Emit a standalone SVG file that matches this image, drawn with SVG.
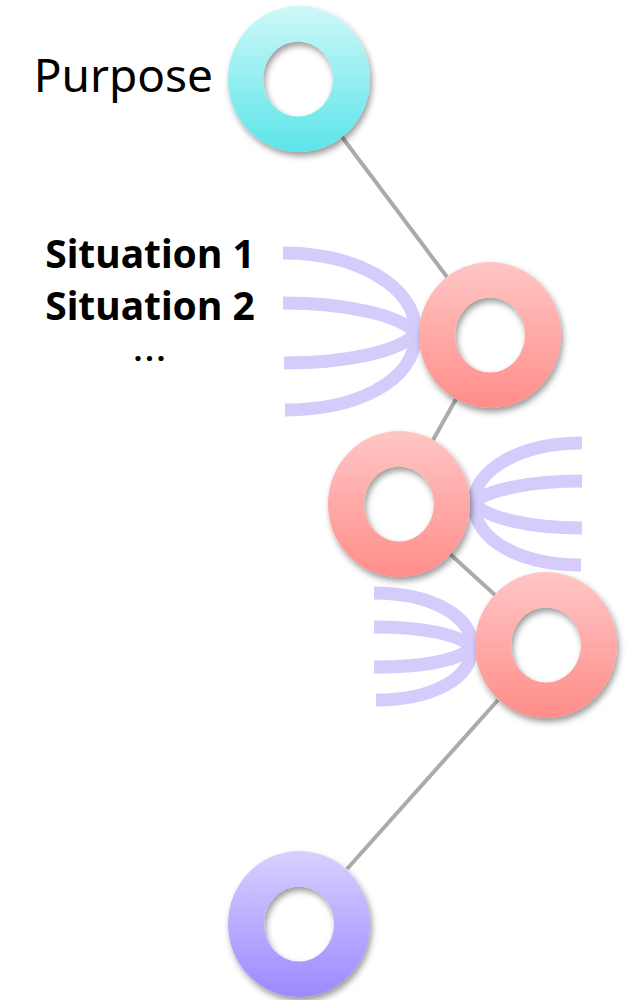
<svg xmlns="http://www.w3.org/2000/svg" width="628" height="1000" viewBox="0 0 628 1000">
<style>
.edge{stroke:#ABABAB;stroke-width:4;fill:none}
.fan{stroke:#D5CCFC;stroke-width:13;fill:none}
.ring{fill-rule:evenodd;filter:url(#sh)}
.lbl{font-family:"Noto Sans","DejaVu Sans",sans-serif;fill:#000}
.sit{font-weight:bold;font-size:39px;text-anchor:middle}
</style>
<defs>
<filter id="sh" x="-20%" y="-20%" width="140%" height="140%">
<feDropShadow dx="2" dy="4" stdDeviation="3" flood-color="#000" flood-opacity="0.4"/>
</filter>
<linearGradient id="gc" x1="0" y1="0" x2="0" y2="1">
<stop offset="0" stop-color="#CEF8F9"/><stop offset="1" stop-color="#5BE5E9"/>
</linearGradient>
<linearGradient id="gp" x1="0" y1="0" x2="0" y2="1">
<stop offset="0" stop-color="#FFC6C5"/><stop offset="1" stop-color="#FF8D89"/>
</linearGradient>
<linearGradient id="gv" x1="0" y1="0" x2="0" y2="1">
<stop offset="0" stop-color="#D8D0FF"/><stop offset="1" stop-color="#9C89FF"/>
</linearGradient>
</defs>
<g id="connectors">
<line class="edge" x1="342" y1="137" x2="447" y2="277"/>
<line class="edge" x1="456" y1="399" x2="433" y2="440"/>
<line class="edge" x1="450" y1="554" x2="495" y2="595"/>
<line class="edge" x1="498" y1="700" x2="347" y2="869"/>
</g>
<g id="fan-left-top">
<path class="fan" d="M283,253 C355,253 416,285 416,333"/>
<path class="fan" d="M283,303 C345,303 400,315 416,333"/>
<path class="fan" d="M284,363 C345,363 400,352 416,333"/>
<path class="fan" d="M285,410 C355,410 416,382 416,333"/>
</g>
<g id="fan-right">
<path class="fan" d="M582,443 C520,443 474,470 474,503"/>
<path class="fan" d="M582,481 C530,481 486,490 474,503"/>
<path class="fan" d="M582,528 C530,528 486,518 474,503"/>
<path class="fan" d="M581,565 C520,565 474,540 474,503"/>
</g>
<g id="fan-left-bottom">
<path class="fan" d="M374,593 C430,593 472,615 472,647"/>
<path class="fan" d="M374,627 C425,627 460,635 472,647"/>
<path class="fan" d="M374,667 C425,667 460,660 472,647"/>
<path class="fan" d="M376,700 C430,700 472,680 472,647"/>
</g>
<g id="purpose">
<path class="ring" fill="url(#gc)" d="M228,79 a71,73 0 1,0 142,0 a71,73 0 1,0 -142,0 Z M263,79 a35,37.5 0 1,0 70,0 a35,37.5 0 1,0 -70,0 Z"/>
<text class="lbl" x="213" y="92" font-size="46" text-anchor="end">Purpose</text>
</g>
<g id="node2">
<path class="ring" fill="url(#gp)" d="M419,335 a71,73 0 1,0 142,0 a71,73 0 1,0 -142,0 Z M455,335 a35,37.5 0 1,0 70,0 a35,37.5 0 1,0 -70,0 Z"/>
</g>
<g id="node3">
<path class="ring" fill="url(#gp)" d="M328,504 a71,73 0 1,0 142,0 a71,73 0 1,0 -142,0 Z M364,504 a35,37.5 0 1,0 70,0 a35,37.5 0 1,0 -70,0 Z"/>
</g>
<g id="node4">
<path class="ring" fill="url(#gp)" d="M475,645 a71,73 0 1,0 142,0 a71,73 0 1,0 -142,0 Z M511,645 a35,37.5 0 1,0 70,0 a35,37.5 0 1,0 -70,0 Z"/>
</g>
<g id="node5">
<path class="ring" fill="url(#gv)" d="M228,924 a71,73 0 1,0 142,0 a71,73 0 1,0 -142,0 Z M264,924 a35,37.5 0 1,0 70,0 a35,37.5 0 1,0 -70,0 Z"/>
</g>
<g id="situations">
<text class="lbl sit" x="150" y="268">Situation 1</text>
<text class="lbl sit" x="150" y="320">Situation 2</text>
<text class="lbl" x="151" y="361" font-size="30" font-weight="bold" text-anchor="middle" letter-spacing="3">...</text>
</g>
</svg>
